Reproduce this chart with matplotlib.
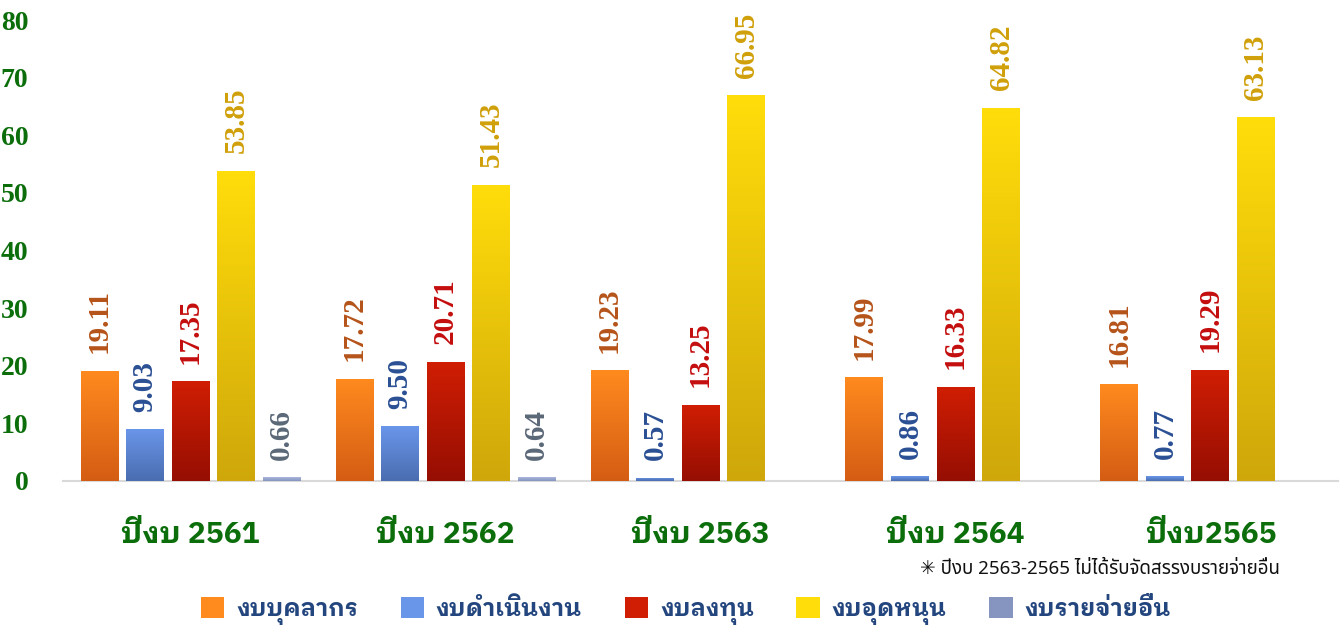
import matplotlib
matplotlib.use('Agg')
from matplotlib import pyplot as plt
from matplotlib.colors import LinearSegmentedColormap
from matplotlib.patches import Patch
import numpy as np

# data
years = ['ปีงบ 2561', 'ปีงบ 2562', 'ปีงบ 2563', 'ปีงบ 2564', 'ปีงบ2565']
series_names = ['งบบุคลากร', 'งบดำเนินงาน', 'งบลงทุน', 'งบอุดหนุน', 'งบรายจ่ายอื่น']
personnel = [19.11, 17.72, 19.23, 17.99, 16.81]
operating = [9.03, 9.50, 0.57, 0.86, 0.77]
investment = [17.35, 20.71, 13.25, 16.33, 19.29]
subsidy = [53.85, 51.43, 66.95, 64.82, 63.13]
other = [0.66, 0.64, None, None, None]
yticks = [0, 10, 20, 30, 40, 50, 60, 70, 80]
note = '✳ ปีงบ 2563-2565 ไม่ได้รับจัดสรรงบรายจ่ายอื่น'

series = [personnel, operating, investment, subsidy, other]
# (top colour, bottom colour, label colour)
styles = [('#ff8a1e', '#d45d14', '#b5541a'),
          ('#6a96ea', '#4a6db0', '#2a4f94'),
          ('#d01e04', '#960e02', '#c40e0e'),
          ('#ffdd0a', '#cfa70a', '#d0a00a'),
          ('#aab6dc', '#8595c0', '#5b6878')]

thai = ['IBM Plex Sans Thai Looped', 'DejaVu Sans']
serif = 'Liberation Serif'
green = '#0b6e0b'

fig = plt.figure(figsize=(13.42, 6.27), dpi=100)
ax = fig.add_axes([0.047, 0.233, 0.950, 0.735])

x = np.arange(len(years))
slot = 0.1785
width = 0.149
grad = np.linspace(1, 0, 100).reshape(-1, 1)

for i, vals in enumerate(series):
    top_c, bot_c, lab_c = styles[i]
    cmap = LinearSegmentedColormap.from_list('g%d' % i, [bot_c, top_c])
    for j, v in enumerate(vals):
        if v is None:
            continue
        xc = x[j] + (i - 2) * slot
        b = ax.bar(xc, v, width, color=top_c, zorder=2, linewidth=0)[0]
        im = ax.imshow(grad, extent=[xc - width / 2, xc + width / 2, 0, v],
                       aspect='auto', cmap=cmap, vmin=0, vmax=1, zorder=3)
        im.set_clip_path(b)
        ax.annotate('%.2f' % v, (xc, v), xytext=(0, 12.5), textcoords='offset points',
                    rotation=90, ha='center', va='bottom', color=lab_c,
                    fontsize=21, fontweight='bold', family=serif)

ax.set_xlim(-0.5, 4.5)
ax.set_ylim(0, 80)
ax.set_yticks(yticks)
ax.set_yticklabels([str(t) for t in yticks], color=green, fontsize=20,
                   fontweight='bold', family=serif)
ax.set_xticks(x)
ax.set_xticklabels(years, color=green, fontsize=21.5, fontweight='bold', family=thai)
ax.tick_params(axis='y', length=0, pad=25)
ax.tick_params(axis='x', length=0, pad=29)
for s in ['top', 'right', 'left']:
    ax.spines[s].set_visible(False)
ax.spines['bottom'].set_color('#d9d9d9')
ax.spines['bottom'].set_linewidth(1.5)
ax.spines['bottom'].set_zorder(1)

fig.text(0.954, 0.093, note, ha='right', va='center', fontsize=13.5,
         family=['Noto Sans Thai', 'DejaVu Sans'], color='#111111')

handles = [Patch(facecolor=s[1] if k == 4 else s[0], edgecolor='none') for k, s in enumerate(styles)]
fig.legend(handles, series_names, loc='center', bbox_to_anchor=(0.511, 0.026),
           ncol=5, frameon=False, handlelength=1.0, handleheight=1.0,
           handletextpad=0.5, columnspacing=1.8,
           prop={'family': thai, 'weight': 'bold', 'size': 17},
           labelcolor='#24467f')

fig.savefig('out.png', dpi=100)
